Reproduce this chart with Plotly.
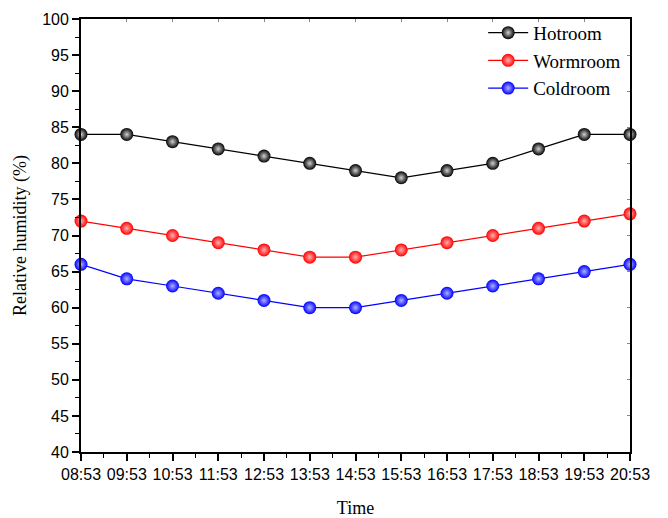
import plotly.graph_objects as go

times = ["08:53", "09:53", "10:53", "11:53", "12:53", "13:53", "14:53",
         "15:53", "16:53", "17:53", "18:53", "19:53", "20:53"]
hotroom = [84, 84, 83, 82, 81, 80, 79, 78, 79, 80, 82, 84, 84]
wormroom = [72, 71, 70, 69, 68, 67, 67, 68, 69, 70, 71, 72, 73]
coldroom = [66, 64, 63, 62, 61, 60, 60, 61, 62, 63, 64, 65, 66]
y_ticks = list(range(40, 101, 5))

series = [("Hotroom", hotroom, "black", "#d0d0d0"),
          ("Wormroom", wormroom, "red", "#ffb0b0"),
          ("Coldroom", coldroom, "blue", "#b0b0ff")]

x_idx = list(range(len(times)))

fig = go.Figure()
for name, vals, col, hl in series:
    fig.add_trace(go.Scatter(
        x=x_idx, y=vals, name=name, mode="lines+markers",
        line=dict(color=col, width=1.2),
        marker=dict(size=13, color=col,
                    gradient=dict(type="radial", color=hl),
                    line=dict(width=0)),
        cliponaxis=False,
    ))

axis_font = dict(family="Liberation Sans, Arial, sans-serif", size=16, color="black")
title_font = dict(family="Liberation Serif, Times New Roman, serif", size=18, color="black")

fig.update_layout(
    width=668, height=518,
    margin=dict(l=81, r=38, t=19, b=66, autoexpand=False),
    plot_bgcolor="white", paper_bgcolor="white",
    showlegend=True,
    legend=dict(x=0.993, y=1.012, xanchor="right", yanchor="top",
                bgcolor="rgba(0,0,0,0)", borderwidth=0,
                font=dict(family="Liberation Serif, Times New Roman, serif", size=19, color="black"),
                tracegroupgap=0, itemwidth=40),
    xaxis=dict(
        range=[0, 12], tickmode="array", tickvals=x_idx, ticktext=times,
        showgrid=False, zeroline=False, automargin=False,
        showline=True, linecolor="black", linewidth=1.8, mirror=True,
        ticks="outside", ticklen=7, tickwidth=1.5, tickcolor="black",
        tickfont=axis_font,
        minor=dict(dtick=0.5, tick0=0, ticks="outside", ticklen=4, tickwidth=1.2, tickcolor="black", showgrid=False),
        title=dict(text="Time", font=title_font, standoff=25),
    ),
    yaxis=dict(
        range=[40, 100], tickmode="array", tickvals=y_ticks,
        showgrid=False, zeroline=False, automargin=False,
        showline=True, linecolor="black", linewidth=1.8, mirror=True,
        ticks="outside", ticklen=7, tickwidth=1.5, tickcolor="black",
        tickfont=axis_font,
        minor=dict(dtick=2.5, tick0=40, ticks="outside", ticklen=4, tickwidth=1.2, tickcolor="black", showgrid=False),
        title=dict(text="Relative humidity (%)", font=title_font, standoff=11),
    ),
    xaxis2=dict(overlaying="x", side="top", range=[0, 12], tickmode="array", tickvals=x_idx,
                showticklabels=False, ticks="inside", ticklen=3, tickwidth=1, tickcolor="#888",
                showgrid=False, zeroline=False, showline=False, automargin=False),
    yaxis2=dict(overlaying="y", side="right", range=[40, 100], tickmode="array", tickvals=y_ticks,
                showticklabels=False, ticks="inside", ticklen=3, tickwidth=1, tickcolor="#888",
                showgrid=False, zeroline=False, showline=False, automargin=False),
)
# invisible trace to activate the mirrored inside-tick axes
fig.add_trace(go.Scatter(x=[None], y=[None], xaxis="x2", yaxis="y2", showlegend=False, hoverinfo="skip"))

fig.write_html("out.html", config={"displayModeBar": False},
               post_script="document.body.style.margin='0';document.body.style.overflow='hidden';")
